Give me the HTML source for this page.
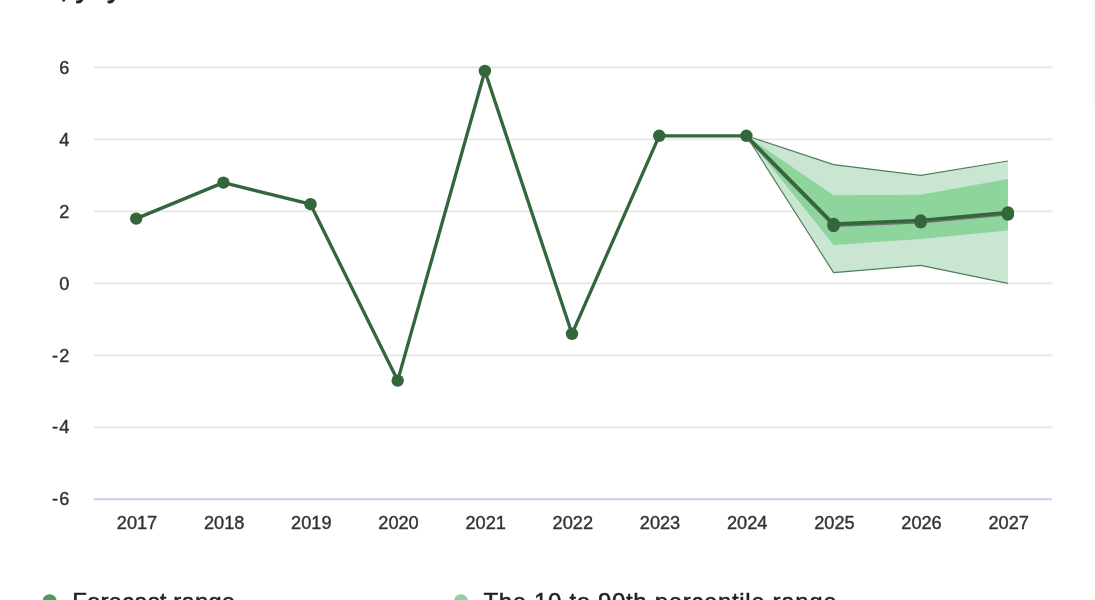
<!DOCTYPE html>
<html lang="en">
<head>
<meta charset="utf-8">
<title>Forecast chart</title>
<style>
html, body { margin: 0; padding: 0; background: #ffffff; }
body { width: 1095px; height: 600px; overflow: hidden; font-family: "Liberation Sans", sans-serif; }
svg { display: block; }
.ax { font-family: "Liberation Sans", sans-serif; font-size: 18.2px; fill: #333333; stroke: #333333; stroke-width: 0.4px; }
.lg { font-family: "Liberation Sans", sans-serif; font-size: 24px; fill: #222222; stroke: #222222; stroke-width: 0.5px; }
.tt { font-family: "Liberation Sans", sans-serif; font-size: 30px; fill: #222222; stroke: #222222; stroke-width: 0.8px; }
</style>
</head>
<body>
<svg width="1095" height="600" viewBox="0 0 1095 600">
<rect x="94.0" y="66.5" width="958.0" height="1.8" fill="#e6e6e6"/>
<rect x="94.0" y="138.5" width="958.0" height="1.8" fill="#e6e6e6"/>
<rect x="94.0" y="210.5" width="958.0" height="1.8" fill="#e6e6e6"/>
<rect x="94.0" y="282.5" width="958.0" height="1.8" fill="#e6e6e6"/>
<rect x="94.0" y="354.5" width="958.0" height="1.8" fill="#e6e6e6"/>
<rect x="94.0" y="426.5" width="958.0" height="1.8" fill="#e6e6e6"/>
<rect x="93.5" y="498.1" width="958.5" height="2.2" fill="#d0d4ec"/>
<text x="69.3" y="74.4" text-anchor="end" class="ax">6</text>
<text x="69.3" y="146.2" text-anchor="end" class="ax">4</text>
<text x="69.3" y="218.0" text-anchor="end" class="ax">2</text>
<text x="69.3" y="289.8" text-anchor="end" class="ax">0</text>
<text x="69.3" y="361.6" text-anchor="end" class="ax">-<tspan dx="1.1">2</tspan></text>
<text x="69.3" y="433.4" text-anchor="end" class="ax">-<tspan dx="1.1">4</tspan></text>
<text x="69.3" y="505.2" text-anchor="end" class="ax">-<tspan dx="1.1">6</tspan></text>
<text x="137.0" y="529.2" text-anchor="middle" class="ax">2017</text>
<text x="224.2" y="529.2" text-anchor="middle" class="ax">2018</text>
<text x="311.3" y="529.2" text-anchor="middle" class="ax">2019</text>
<text x="398.5" y="529.2" text-anchor="middle" class="ax">2020</text>
<text x="485.7" y="529.2" text-anchor="middle" class="ax">2021</text>
<text x="572.8" y="529.2" text-anchor="middle" class="ax">2022</text>
<text x="660.0" y="529.2" text-anchor="middle" class="ax">2023</text>
<text x="747.2" y="529.2" text-anchor="middle" class="ax">2024</text>
<text x="834.4" y="529.2" text-anchor="middle" class="ax">2025</text>
<text x="921.5" y="529.2" text-anchor="middle" class="ax">2026</text>
<text x="1008.7" y="529.2" text-anchor="middle" class="ax">2027</text>
<polygon points="746.4,135.8 833.6,164.6 920.7,175.4 1007.9,161.0 1007.9,283.4 920.7,265.4 833.6,272.6" fill="#cae5d1"/>
<polyline points="746.4,135.8 833.6,164.6 920.7,175.4 1007.9,161.0" fill="none" stroke="#4d805b" stroke-width="1.2" stroke-linejoin="round"/>
<polyline points="746.4,135.8 833.6,272.6 920.7,265.4 1007.9,283.4" fill="none" stroke="#4d805b" stroke-width="1.2" stroke-linejoin="round"/>
<polygon points="746.4,135.8 833.6,195.2 920.7,194.8 1007.9,179.0 1007.9,230.5 920.7,239.1 833.6,244.9" fill="#8dd59c"/>
<polyline points="746.4,137.6 833.6,225.8 920.7,222.2 1007.9,214.3" fill="none" stroke="#6f6f6f" stroke-width="2.4" stroke-linejoin="round" stroke-linecap="round"/>
<polyline points="136.2,218.6 223.4,182.6 310.5,204.2 397.7,380.6 484.9,71.0 572.0,333.8 659.2,135.8 746.4,135.8 833.6,224.0 920.7,220.4 1007.9,212.5" fill="none" stroke="#33663a" stroke-width="3.3" stroke-linejoin="round" stroke-linecap="round"/>
<circle cx="136.2" cy="218.6" r="6.2" fill="#33663a"/>
<circle cx="223.4" cy="182.6" r="6.2" fill="#33663a"/>
<circle cx="310.5" cy="204.2" r="6.2" fill="#33663a"/>
<circle cx="397.7" cy="380.6" r="6.2" fill="#33663a"/>
<circle cx="484.9" cy="71.0" r="6.2" fill="#33663a"/>
<circle cx="572.0" cy="333.8" r="6.2" fill="#33663a"/>
<circle cx="659.2" cy="135.8" r="6.2" fill="#33663a"/>
<circle cx="746.4" cy="135.8" r="6.2" fill="#33663a"/>
<circle cx="833.6" cy="224.0" r="6.2" fill="#33663a"/>
<circle cx="920.7" cy="220.4" r="6.2" fill="#33663a"/>
<circle cx="1007.9" cy="212.5" r="6.2" fill="#33663a"/>
<circle cx="833.6" cy="226.0" r="6.2" fill="#33663a"/>
<circle cx="920.7" cy="222.4" r="6.2" fill="#33663a"/>
<circle cx="1007.9" cy="214.5" r="6.2" fill="#33663a"/>
<circle cx="49.6" cy="601.2" r="7" fill="#4c9a5c"/>
<circle cx="461" cy="601.2" r="7" fill="#8fd4a0"/>
<text x="72.2" y="609.5" class="lg" textLength="163" lengthAdjust="spacing">Forecast range</text>
<text x="483.5" y="609.5" class="lg" textLength="353" lengthAdjust="spacing">The 10 to 90th percentile range</text>
<text x="34 60 68 75.5 93 107" y="-2.9" class="tt">%, y/y</text>
<rect x="1093.5" y="0" width="1.5" height="110" fill="#f7f7f9"/>
</svg>
</body>
</html>
